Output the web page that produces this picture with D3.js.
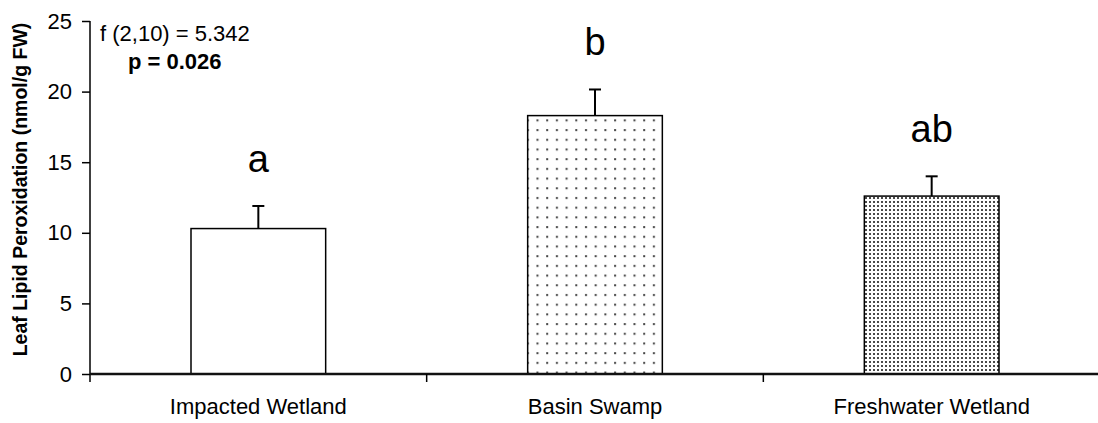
<!DOCTYPE html>
<html>
<head>
<meta charset="utf-8">
<script src="https://cdn.jsdelivr.net/npm/d3@7"></script>
<style>
  body { margin: 0; background: #fff; }
  svg { font-family: "Liberation Sans", Arial, sans-serif; }
</style>
</head>
<body>
<svg width="1098" height="423"></svg>
<script>
var categories = ["Impacted Wetland", "Basin Swamp", "Freshwater Wetland"];
var means = [10.3, 18.3, 12.6];
var errors = [1.6, 1.85, 1.4];
var letters = ["a", "b", "ab"];
var yTicks = [0, 5, 10, 15, 20, 25];

var svg = d3.select("svg");

var margins = { top: 21, bottom: 49, left: 90, right: 0 };
var width = 1098 - margins.left - margins.right;
var height = 423 - margins.top - margins.bottom;

var xScale = d3.scaleBand()
               .domain(categories)
               .range([margins.left, margins.left + width + 2])
               .paddingInner(0.6)
               .paddingOuter(0.3);

var yScale = d3.scaleLinear()
               .domain([0, 25])
               .range([margins.top + height, margins.top]);

// fill patterns
var defs = svg.append("defs");

var sparse = defs.append("pattern")
                 .attr("id", "sparse")
                 .attr("patternUnits", "userSpaceOnUse")
                 .attr("width", 9.7).attr("height", 9.7);
sparse.append("rect").attr("width", 9.7).attr("height", 9.7).attr("fill", "#fff");
sparse.append("rect").attr("x", 3).attr("y", 3).attr("width", 2).attr("height", 2).attr("fill", "#444");

var dense = defs.append("pattern")
                .attr("id", "dense")
                .attr("patternUnits", "userSpaceOnUse")
                .attr("width", 4).attr("height", 4);
dense.append("rect").attr("width", 4).attr("height", 4).attr("fill", "#fff");
dense.append("rect").attr("x", 1).attr("y", 1).attr("width", 2).attr("height", 2).attr("fill", "#4a4a4a");

var fills = ["#fff", "url(#sparse)", "url(#dense)"];

// bars
svg.selectAll(".bar")
   .data(means)
   .enter()
   .append("rect")
   .attr("class", "bar")
   .attr("x", function(d, i) { return xScale(categories[i]); })
   .attr("y", function(d) { return yScale(d); })
   .attr("width", xScale.bandwidth())
   .attr("height", function(d) { return yScale(0) - yScale(d); })
   .attr("fill", function(d, i) { return fills[i]; })
   .attr("stroke", "#000")
   .attr("stroke-width", 1.5);

// error bars
var errG = svg.selectAll(".err")
              .data(means)
              .enter()
              .append("g")
              .attr("class", "err")
              .attr("transform", function(d, i) {
                return "translate(" + (xScale(categories[i]) + xScale.bandwidth() / 2) + ",0)";
              });

errG.append("line")
    .attr("x1", 0).attr("x2", 0)
    .attr("y1", function(d) { return yScale(d); })
    .attr("y2", function(d, i) { return yScale(d + errors[i]); })
    .attr("stroke", "#000").attr("stroke-width", 2);

errG.append("line")
    .attr("x1", -6).attr("x2", 6)
    .attr("y1", function(d, i) { return yScale(d + errors[i]); })
    .attr("y2", function(d, i) { return yScale(d + errors[i]); })
    .attr("stroke", "#000").attr("stroke-width", 2);

errG.append("text")
    .attr("x", 0)
    .attr("y", function(d, i) { return yScale(d + errors[i]) - 34; })
    .attr("text-anchor", "middle")
    .attr("font-size", 38)
    .text(function(d, i) { return letters[i]; });

// y axis
var yAxis = d3.axisLeft(yScale).tickValues(yTicks).tickSize(8).tickPadding(10).tickSizeOuter(0);
var yG = svg.append("g")
            .attr("transform", "translate(" + margins.left + ",0)")
            .call(yAxis);
yG.select(".domain").remove();
yG.selectAll(".tick line").attr("stroke", "#000").attr("stroke-width", 1.5);
yG.selectAll(".tick text").attr("font-size", 22).attr("fill", "#000")
  .attr("font-family", "Liberation Sans, Arial, sans-serif");
yG.append("line")
  .attr("x1", 0).attr("x2", 0)
  .attr("y1", yScale(25)).attr("y2", yScale(0) + 8)
  .attr("stroke", "#000").attr("stroke-width", 1.5);

// x axis line + category separators
svg.append("line")
   .attr("x1", margins.left).attr("x2", 1098)
   .attr("y1", yScale(0)).attr("y2", yScale(0))
   .attr("stroke", "#111").attr("stroke-width", 2.5);

var step = xScale.step();
var bounds = categories.map(function(c) { return xScale(c) - step * 0.3; });
svg.selectAll(".sep")
   .data(bounds.slice(1))
   .enter()
   .append("line")
   .attr("x1", function(d) { return d; }).attr("x2", function(d) { return d; })
   .attr("y1", yScale(0)).attr("y2", yScale(0) + 8)
   .attr("stroke", "#000").attr("stroke-width", 1.5);

svg.selectAll(".cat")
   .data(categories)
   .enter()
   .append("text")
   .attr("x", function(d) { return xScale(d) + xScale.bandwidth() / 2; })
   .attr("y", 414)
   .attr("text-anchor", "middle")
   .attr("font-size", 22)
   .text(function(d) { return d; });

// y label
svg.append("text")
   .attr("transform", "translate(27," + (yScale(12.5) - 8) + ") rotate(-90)")
   .attr("text-anchor", "middle")
   .attr("font-size", 19.5)
   .attr("font-weight", "bold")
   .text("Leaf Lipid Peroxidation (nmol/g FW)");

// stats note
svg.append("text")
   .attr("x", 100).attr("y", 41)
   .attr("font-size", 22)
   .text("f (2,10) = 5.342");
svg.append("text")
   .attr("x", 128).attr("y", 69)
   .attr("font-size", 22)
   .attr("font-weight", "bold")
   .text("p = 0.026");
</script>
</body>
</html>
